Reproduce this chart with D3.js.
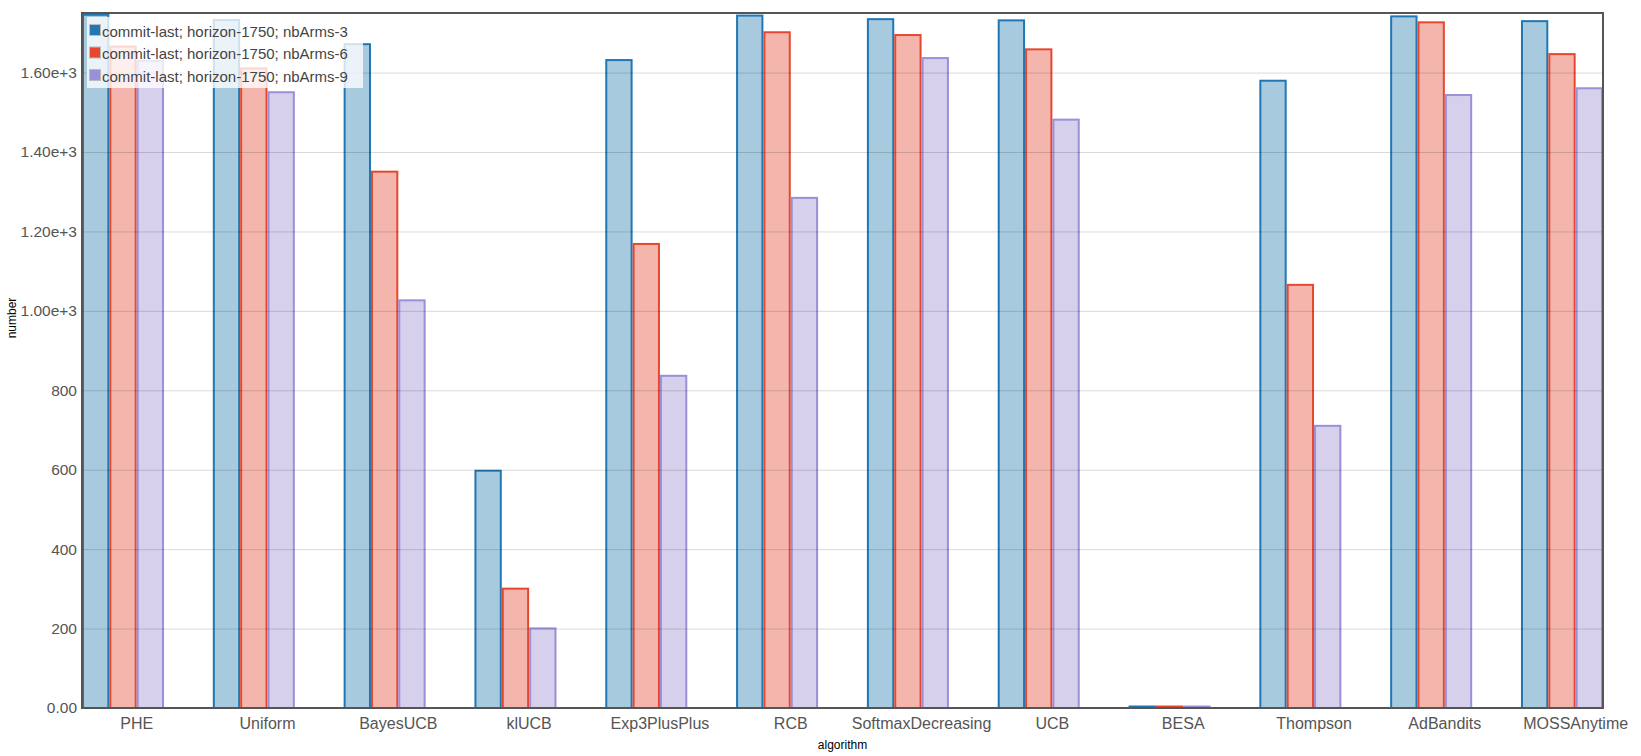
<!DOCTYPE html>
<html>
<head>
<meta charset="utf-8">
<script src="https://cdn.jsdelivr.net/npm/d3@7"></script>
<style>
  html, body { margin: 0; padding: 0; background: #fff; }
  svg { display: block; font-family: "Liberation Sans", Arial, sans-serif; }
</style>
</head>
<body>
<svg id="chart" width="1641" height="756"></svg>
<script>
const categories = ["PHE", "Uniform", "BayesUCB", "klUCB", "Exp3PlusPlus", "RCB",
  "SoftmaxDecreasing", "UCB", "BESA", "Thompson", "AdBandits", "MOSSAnytime"];
const seriesNames = ["commit-last; horizon-1750; nbArms-3",
  "commit-last; horizon-1750; nbArms-6",
  "commit-last; horizon-1750; nbArms-9"];
const nbArms3 = [1748, 1735, 1674, 600, 1634, 1746, 1737, 1734, 2, 1582, 1744, 1732];
const nbArms6 = [1668, 1613, 1353, 303, 1171, 1704, 1697, 1661, 2, 1068, 1729, 1649];
const nbArms9 = [1632, 1553, 1029, 203, 839, 1287, 1639, 1484, 2, 713, 1546, 1563];
const yTicks = [0, 200, 400, 600, 800, 1000, 1200, 1400, 1600];
const yMax = 1750;

const strokeColors = ["#2077b4", "#e5482f", "#9b8fd8"];
const fillColors = ["#a8cadf", "#f4b6ac", "#d6d0ec"];
const series = [nbArms3, nbArms6, nbArms9];

const svg = d3.select("#chart");
const m = { left: 82, right: 1603, top: 13, bottom: 708 };

const x0 = d3.scaleBand().domain(categories).range([m.left, m.right])
  .paddingInner(0.373).paddingOuter(0);
const x1 = d3.scaleBand().domain([0, 1, 2]).range([0, x0.bandwidth()]);
const y = d3.scaleLinear().domain([0, yMax]).range([m.bottom, m.top]);

// bars
const groups = svg.append("g").selectAll("g").data(categories).join("g")
  .attr("transform", d => `translate(${x0(d)},0)`);
groups.selectAll("rect")
  .data((c, i) => series.map((s, k) => ({ k, v: s[i] })))
  .join("rect")
  .attr("x", d => x1(d.k) + 1)
  .attr("width", x1.bandwidth() - 2)
  .attr("y", d => Math.min(y(d.v) + 1, m.bottom - 1.5))
  .attr("height", d => Math.max(0.5, m.bottom - y(d.v) - 1))
  .attr("fill", d => fillColors[d.k])
  .attr("stroke", d => strokeColors[d.k])
  .attr("stroke-width", 2);

// gridlines (drawn over bars, translucent)
svg.append("g").selectAll("line").data(yTicks.filter(t => t > 0)).join("line")
  .attr("x1", m.left).attr("x2", m.right)
  .attr("y1", d => y(d) + 0.5).attr("y2", d => y(d) + 0.5)
  .attr("stroke", "#000").attr("stroke-opacity", 0.15).attr("stroke-width", 1);

// y axis
const yAxis = d3.axisLeft(y).tickValues(yTicks).tickSize(0).tickPadding(5)
  .tickFormat(d => d >= 1000 ? d3.format(".2e")(d) : (d === 0 ? "0.00" : d3.format("d")(d)));
const gy = svg.append("g").attr("transform", `translate(${m.left},0)`).call(yAxis);
gy.select(".domain").remove();
gy.selectAll("text").attr("font-size", 15.5).attr("fill", "#555")
  .attr("font-family", "Liberation Sans, Arial, sans-serif");

// x axis
const xAxis = d3.axisBottom(x0).tickSize(0).tickPadding(10);
const gx = svg.append("g").attr("transform", `translate(${x1.bandwidth() / 2},${m.bottom})`).call(xAxis);
gx.select(".domain").remove();
gx.selectAll("text").attr("font-size", 16).attr("fill", "#555")
  .attr("font-family", "Liberation Sans, Arial, sans-serif");

// frame
svg.append("rect").attr("x", m.left).attr("y", m.top)
  .attr("width", m.right - m.left).attr("height", m.bottom - m.top)
  .attr("fill", "none").attr("stroke", "#555").attr("stroke-width", 2);

// axis titles
svg.append("text").attr("transform", `translate(16,318) rotate(-90)`)
  .attr("text-anchor", "middle").attr("font-size", 12).attr("fill", "#000")
  .text("number");
svg.append("text").attr("x", (m.left + m.right) / 2).attr("y", 749)
  .attr("text-anchor", "middle").attr("font-size", 12).attr("fill", "#000")
  .text("algorithm");

// legend
const lg = svg.append("g");
lg.append("rect").attr("x", 87).attr("y", 17).attr("width", 276).attr("height", 71)
  .attr("fill", "#fff").attr("fill-opacity", 0.78);
const items = lg.selectAll("g.item").data(seriesNames).join("g").attr("class", "item")
  .attr("transform", (d, i) => `translate(89,${24 + i * 22.5})`);
items.append("rect").attr("x", 0.5).attr("y", 0.5).attr("width", 11).attr("height", 11)
  .attr("fill", (d, i) => strokeColors[i]).attr("stroke", "#bbb").attr("stroke-width", 1);
items.append("text").attr("x", 13).attr("y", 12.5)
  .attr("font-size", 15).attr("fill", "#444").text(d => d);
</script>
</body>
</html>
